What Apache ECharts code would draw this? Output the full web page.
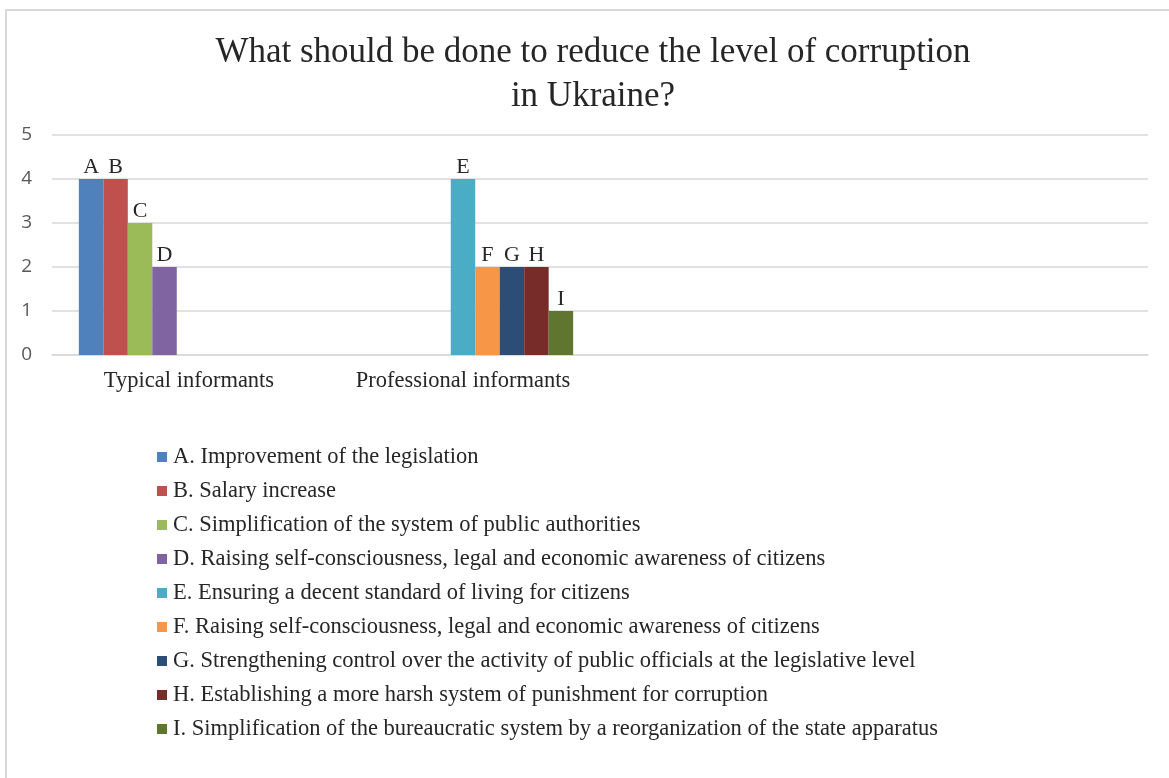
<!DOCTYPE html>
<html lang="en">
<head>
  <meta charset="UTF-8" />
  <title>Corruption survey</title>
  <script src="https://cdn.jsdelivr.net/npm/echarts@6.0.0/dist/echarts.min.js"></script>
  <style>
    html, body { margin: 0; padding: 0; background: #fff; overflow: hidden; }
    #frame {
      position: absolute; left: 5px; top: 9px; width: 1170px; height: 780px;
      border-left: 2px solid #d9d9d9; border-top: 2px solid #d9d9d9;
    }
    #chart { position: absolute; left: 0; top: 0; width: 1169px; height: 778px; }
  </style>
</head>
<body>
  <div id="frame"></div>
  <div id="chart"></div>
  <script>
    // categories (last two slots are empty in the original Excel chart)
    var categories = ["Typical informants", "Professional informants", "", ""];

    var seriesLetters = ["A", "B", "C", "D", "E", "F", "G", "H", "I"];
    var seriesNames = [
      "A. Improvement of the legislation",
      "B. Salary increase",
      "C. Simplification of the system of public authorities",
      "D. Raising self-consciousness, legal and economic awareness of citizens",
      "E. Ensuring a decent standard of living for citizens",
      "F. Raising self-consciousness, legal and economic awareness of citizens",
      "G. Strengthening control over the activity of public officials at the legislative level",
      "H. Establishing a more harsh system of punishment for corruption",
      "I. Simplification of the bureaucratic system by a reorganization of the state apparatus"
    ];
    var seriesColors = ["#4f81bd", "#c0504d", "#9bbb59", "#8064a2", "#4bacc6",
                        "#f79646", "#2c4d75", "#772c2a", "#5f7530"];

    // one value per category for each series
    var valuesA = [4, null, null, null];
    var valuesB = [4, null, null, null];
    var valuesC = [3, null, null, null];
    var valuesD = [2, null, null, null];
    var valuesE = [null, 4, null, null];
    var valuesF = [null, 2, null, null];
    var valuesG = [null, 2, null, null];
    var valuesH = [null, 2, null, null];
    var valuesI = [null, 1, null, null];
    var allValues = [valuesA, valuesB, valuesC, valuesD, valuesE, valuesF, valuesG, valuesH, valuesI];

    var yTicks = [0, 1, 2, 3, 4, 5];

    var serif = "'Liberation Serif', 'Times New Roman', serif";

    var series = seriesNames.map(function (name, i) {
      return {
        name: name,
        type: "bar",
        data: allValues[i],
        barGap: "0%",
        barCategoryGap: "19.6%",
        itemStyle: { color: seriesColors[i] },
        label: {
          show: true,
          position: "top",
          distance: 1,
          formatter: seriesLetters[i],
          fontFamily: serif,
          fontSize: 22,
          color: "#262626"
        }
      };
    });

    var chart = echarts.init(document.getElementById("chart"));
    chart.setOption({
      animation: false,
      backgroundColor: "transparent",
      title: {
        text: "What should be done to reduce the level of corruption\nin Ukraine?",
        left: 588,
        top: 26,
        textAlign: "center",
        textStyle: {
          fontFamily: serif,
          fontSize: 35,
          fontWeight: "normal",
          color: "#262626",
          lineHeight: 44
        }
      },
      grid: { left: 52, right: 21, top: 135, bottom: 423, containLabel: false },
      xAxis: {
        type: "category",
        data: categories,
        axisLine: { lineStyle: { color: "#d9d9d9", width: 1.5 } },
        axisTick: { show: false },
        axisLabel: {
          interval: 0,
          fontFamily: serif,
          fontSize: 22.5,
          color: "#262626",
          margin: 15
        }
      },
      yAxis: {
        type: "value",
        min: yTicks[0],
        max: yTicks[yTicks.length - 1],
        interval: 1,
        axisLine: { show: false },
        axisTick: { show: false },
        splitLine: { lineStyle: { color: "#d9d9d9", width: 1.5 } },
        axisLabel: {
          fontFamily: "'Open Sans', 'Liberation Sans', sans-serif",
          fontSize: 19,
          color: "#595959",
          margin: 20
        }
      },
      legend: {
        orient: "vertical",
        left: 152,
        top: 440,
        itemWidth: 10,
        itemHeight: 10,
        itemGap: 10,
        icon: "rect",
        data: seriesNames,
        textStyle: {
          fontFamily: serif,
          fontSize: 22.5,
          color: "#262626",
          lineHeight: 24,
          padding: [0, 0, 0, 1]
        }
      },
      series: series
    });
  </script>
</body>
</html>
